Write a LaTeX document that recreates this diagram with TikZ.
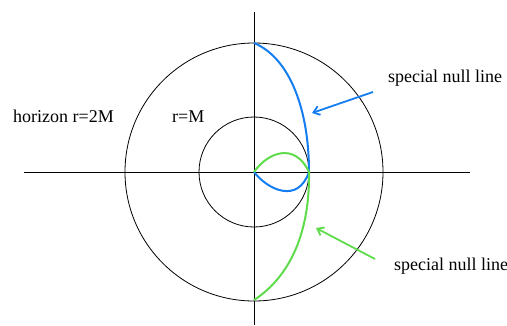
\documentclass[tikz,border=0pt]{standalone}
\usepackage{fontspec}
\setmainfont{Liberation Serif}
\usetikzlibrary{arrows.meta}
\definecolor{nullblue}{RGB}{20,125,240}
\definecolor{nullgreen}{RGB}{95,220,75}
\begin{document}
\begin{tikzpicture}[x=1pt,y=-1pt,
  lbl/.style={font=\fontsize{18}{20}\selectfont, inner sep=0pt, anchor=base west},
  axis/.style={black, line width=0.9pt},
  ring/.style={black, line width=0.8pt},
  bluecurve/.style={nullblue, line width=2pt},
  greencurve/.style={nullgreen, line width=2pt},
  bluearrow/.style={nullblue, line width=1.8pt, -{Straight Barb[length=6pt,width=9pt]}},
  greenarrow/.style={nullgreen, line width=1.8pt, -{Straight Barb[length=6pt,width=9pt]}}]
\useasboundingbox (0,0) rectangle (507,325);
\coordinate (O) at (254,172);
\coordinate (axL) at (24,172);
\coordinate (axR) at (470,172);
\coordinate (axT) at (254,12);
\coordinate (axB) at (254,325);
\draw[axis] (axL) -- (axR);
\draw[axis] (axT) -- (axB);
\draw[ring] (O) circle[radius=129];
\draw[ring] (O) circle[radius=55];
\coordinate (top) at (254,43);
\coordinate (bot) at (254,300);
\coordinate (P) at (309,172);
\draw[bluecurve] (top) .. controls (290,58) and (309,110) .. (P);
\draw[bluecurve] (O) .. controls (268,190) and (298,204) .. (P);
\draw[greencurve] (O) .. controls (268,152) and (295,142) .. (P);
\draw[greencurve] (P) .. controls (310,240) and (285,280) .. (bot);
\node[lbl] (hor) at (13,122) {horizon r=2M};
\node[lbl] (rm) at (172,122) {r=M};
\node[lbl] (sn1) at (388,82) {special null line};
\node[lbl] (sn2) at (394,270) {special null line};
\coordinate (a1s) at (373,92);
\coordinate (a1e) at (312,113);
\coordinate (a2s) at (375,259);
\coordinate (a2e) at (316,228);
\draw[bluearrow] (a1s) -- (a1e);
\draw[greenarrow] (a2s) -- (a2e);
\end{tikzpicture}
\end{document}
